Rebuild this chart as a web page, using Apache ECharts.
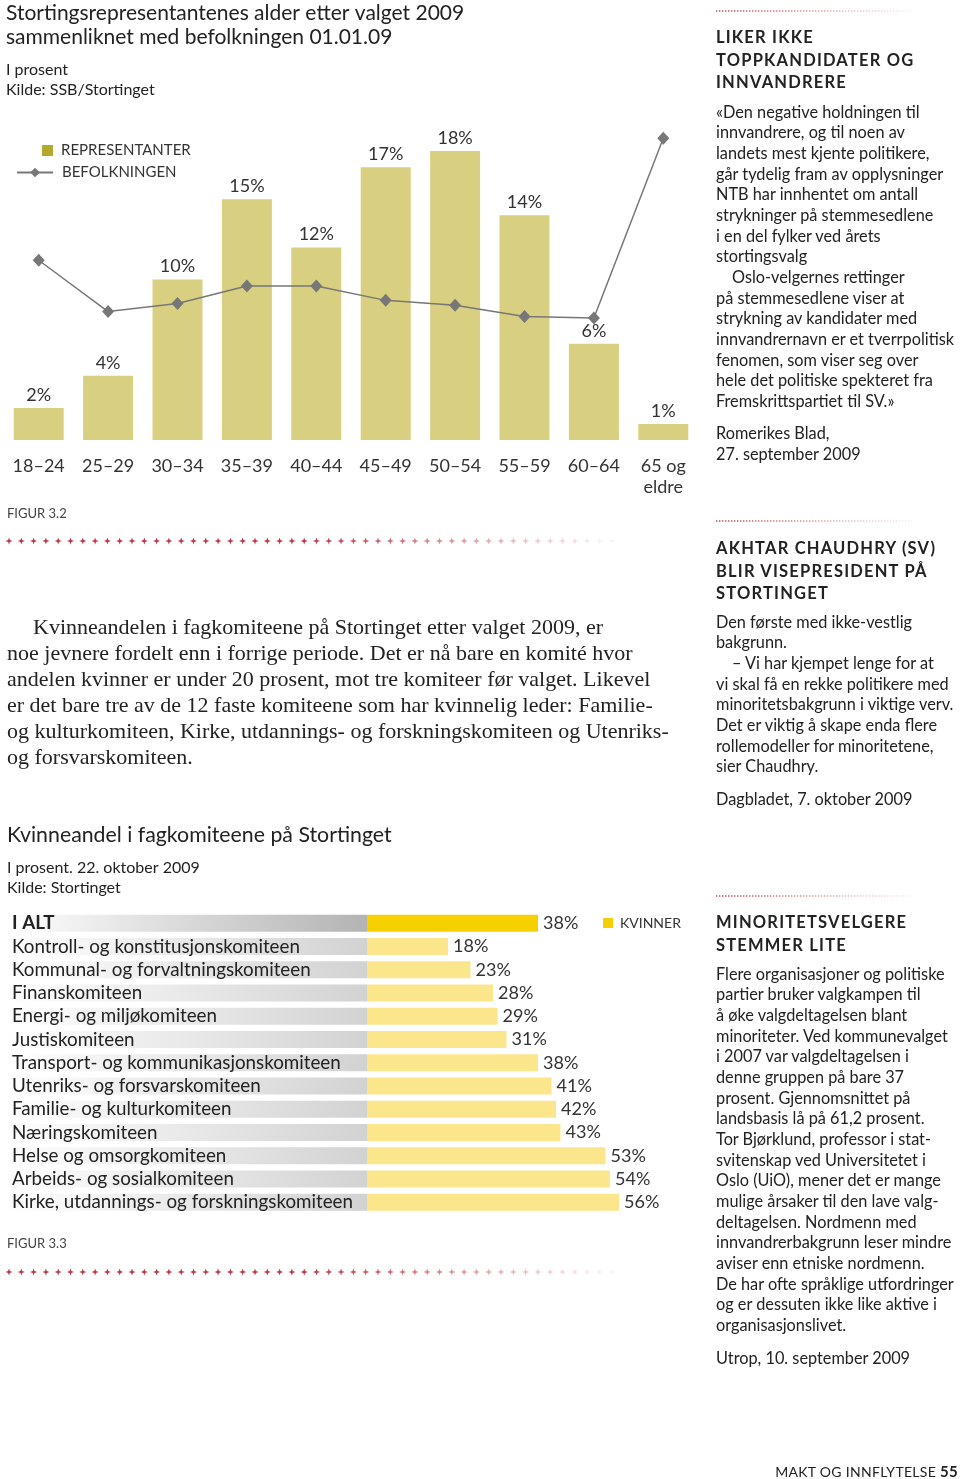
<!DOCTYPE html>
<html><head><meta charset="utf-8">
<script src="https://cdn.jsdelivr.net/npm/echarts@6/dist/echarts.min.js"></script>
<style>
html,body{margin:0;padding:0;background:#fff;}
#page{position:relative;width:960px;height:1479px;overflow:hidden;}
#chart{position:absolute;left:0;top:0;width:960px;height:1479px;}
.t{position:absolute;white-space:nowrap;color:#222;font-family:Lato,sans-serif;margin:0;}
.para{left:7px;top:614px;font-family:'Liberation Serif',serif;font-size:22px;line-height:26px;color:#222;}
.side{left:716px;font-size:16.3px;line-height:20.65px;}
.head{left:716px;font-weight:bold;font-size:16.5px;letter-spacing:1.2px;line-height:22.5px;color:#222;}
.src{left:716px;font-size:16.3px;line-height:21px;}
.foot{right:2px;top:1462px;font-size:14px;line-height:18px;letter-spacing:0.3px;}
</style></head><body>
<div id="page">
<div id="chart"></div>

<div class="t para"><span style="padding-left:26px"></span>Kvinneandelen i fagkomiteene på Stortinget etter valget 2009, er<br>noe jevnere fordelt enn i forrige periode. Det er nå bare en komité hvor<br>andelen kvinner er under 20 prosent, mot tre komiteer før valget. Likevel<br>er det bare tre av de 12 faste komiteene som har kvinnelig leder: Familie-<br>og kulturkomiteen, Kirke, utdannings- og forskningskomiteen og Utenriks-<br>og forsvarskomiteen.</div>

<div class="t head" style="top:26px">LIKER IKKE<br>TOPPKANDIDATER OG<br>INNVANDRERE</div>
<div class="t side" style="top:101.7px">«Den negative holdningen til<br>innvandrere, og til noen av<br>landets mest kjente politikere,<br>går tydelig fram av opplysninger<br>NTB har innhentet om antall<br>strykninger på stemmesedlene<br>i en del fylker ved årets<br>stortingsvalg<br><span style="padding-left:16px"></span>Oslo-velgernes rettinger<br>på stemmesedlene viser at<br>strykning av kandidater med<br>innvandrernavn er et tverrpolitisk<br>fenomen, som viser seg over<br>hele det politiske spekteret fra<br>Fremskrittspartiet til SV.»</div>
<div class="t src" style="top:421.5px">Romerikes Blad,<br>27. september 2009</div>

<div class="t head" style="top:537px">AKHTAR CHAUDHRY (SV)<br>BLIR VISEPRESIDENT PÅ<br>STORTINGET</div>
<div class="t side" style="top:611.7px">Den første med ikke-vestlig<br>bakgrunn.<br><span style="padding-left:16px"></span>– Vi har kjempet lenge for at<br>vi skal få en rekke politikere med<br>minoritetsbakgrunn i viktige verv.<br>Det er viktig å skape enda flere<br>rollemodeller for minoritetene,<br>sier Chaudhry.</div>
<div class="t src" style="top:787.5px">Dagbladet, 7. oktober 2009</div>

<div class="t head" style="top:911px">MINORITETSVELGERE<br>STEMMER LITE</div>
<div class="t side" style="top:963.7px">Flere organisasjoner og politiske<br>partier bruker valgkampen til<br>å øke valgdeltagelsen blant<br>minoriteter. Ved kommunevalget<br>i 2007 var valgdeltagelsen i<br>denne gruppen på bare 37<br>prosent. Gjennomsnittet på<br>landsbasis lå på 61,2 prosent.<br>Tor Bjørklund, professor i stat-<br>svitenskap ved Universitetet i<br>Oslo (UiO), mener det er mange<br>mulige årsaker til den lave valg-<br>deltagelsen. Nordmenn med<br>innvandrerbakgrunn leser mindre<br>aviser enn etniske nordmenn.<br>De har ofte språklige utfordringer<br>og er dessuten ikke like aktive i<br>organisasjonslivet.</div>
<div class="t src" style="top:1346.5px">Utrop, 10. september 2009</div>

<div class="t foot">MAKT OG INNFLYTELSE <b style="font-size:15px">55</b></div>
</div>

<script>
// ---- Figur 3.2 data ----
const ageGroups = ['18–24','25–29','30–34','35–39','40–44','45–49','50–54','55–59','60–64','65 og\neldre'];
const representanter = [2, 4, 10, 15, 12, 17, 18, 14, 6, 1];
const befolkningen = [11.2, 8.0, 8.5, 9.6, 9.6, 8.7, 8.4, 7.7, 7.6, 18.8];

// ---- Figur 3.3 data ----
const komiteer = [
  'I ALT',
  'Kontroll- og konstitusjonskomiteen',
  'Kommunal- og forvaltningskomiteen',
  'Finanskomiteen',
  'Energi- og miljøkomiteen',
  'Justiskomiteen',
  'Transport- og kommunikasjonskomiteen',
  'Utenriks- og forsvarskomiteen',
  'Familie- og kulturkomiteen',
  'Næringskomiteen',
  'Helse og omsorgkomiteen',
  'Arbeids- og sosialkomiteen',
  'Kirke, utdannings- og forskningskomiteen'
];
const kvinner = [38, 18, 23, 28, 29, 31, 38, 41, 42, 43, 53, 54, 56];

const FONT = 'Lato, sans-serif';
const chart = echarts.init(document.getElementById('chart'), null, {renderer: 'canvas', width: 960, height: 1479});

function grad(c0, c1) {
  return new echarts.graphic.LinearGradient(0, 0, 1, 0, [{offset: 0, color: c0}, {offset: 1, color: c1}]);
}

// decorative separators
const graphics = [];
function starRow(y) {
  for (let i = 0; i < 50; i++) {
    const cx = 9 + i * 12.3, cy = y;
    const op = i < 24 ? 1 : Math.max(0.06, 1 - (i - 24) / 26);
    graphics.push({
      type: 'polygon', silent: true,
      shape: {points: [[cx, cy - 3.5], [cx + 0.9, cy - 0.9], [cx + 3.5, cy], [cx + 0.9, cy + 0.9], [cx, cy + 3.5], [cx - 0.9, cy + 0.9], [cx - 3.5, cy], [cx - 0.9, cy - 0.9]]},
      style: {fill: '#b83a48', opacity: op}
    });
  }
}
starRow(541);
starRow(1272);
function dotLine(y) {
  graphics.push({
    type: 'line', silent: true,
    shape: {x1: 716, y1: y, x2: 912, y2: y},
    style: {
      stroke: new echarts.graphic.LinearGradient(716, 0, 912, 0, [{offset: 0, color: 'rgba(185,70,80,1)'}, {offset: 1, color: 'rgba(185,70,80,0.08)'}], true),
      lineWidth: 1.6, lineDash: [1.4, 1.6]
    }
  });
}
dotLine(11); dotLine(521); dotLine(896);

const option = {
  animation: false,
  textStyle: {fontFamily: FONT},
  title: [
    {
      text: 'Stortingsrepresentantenes alder etter valget 2009\nsammenliknet med befolkningen 01.01.09',
      subtext: 'I prosent\nKilde: SSB/Stortinget',
      left: 6, top: 1, padding: 0, itemGap: 11,
      textStyle: {fontFamily: FONT, fontSize: 21, fontWeight: 'normal', color: '#222', lineHeight: 24},
      subtextStyle: {fontFamily: FONT, fontSize: 16, color: '#222', lineHeight: 20}
    },
    {text: 'FIGUR 3.2', left: 7, top: 507, padding: 0, textStyle: {fontFamily: FONT, fontSize: 13, fontWeight: 'normal', color: '#444'}},
    {
      text: 'Kvinneandel i fagkomiteene på Stortinget',
      subtext: 'I prosent. 22. oktober 2009\nKilde: Stortinget',
      left: 7, top: 823, padding: 0, itemGap: 11,
      textStyle: {fontFamily: FONT, fontSize: 21.3, fontWeight: 'normal', color: '#222', lineHeight: 24},
      subtextStyle: {fontFamily: FONT, fontSize: 16, color: '#222', lineHeight: 20}
    },
    {text: 'FIGUR 3.3', left: 7, top: 1237, padding: 0, textStyle: {fontFamily: FONT, fontSize: 13, fontWeight: 'normal', color: '#444'}}
  ],
  legend: [
    {data: [{name: 'REPRESENTANTER', icon: 'rect', itemStyle: {color: '#b5a82c'}}], left: 42, top: 143, padding: 0,
      itemWidth: 11, itemHeight: 11, selectedMode: false, textStyle: {fontSize: 15, color: '#333', padding: [0, 0, 0, 3]}},
    {data: [{name: 'BEFOLKNINGEN'}], left: 16, top: 165, padding: 0,
      itemWidth: 36, itemHeight: 12, selectedMode: false, textStyle: {fontSize: 15, color: '#333', padding: [0, 0, 0, 4]}},
    {data: [{name: 'KVINNER', icon: 'rect', itemStyle: {color: '#f5d000'}}], left: 603, top: 916, padding: 0,
      itemWidth: 10, itemHeight: 10, selectedMode: false, textStyle: {fontSize: 14, color: '#333', padding: [0, 0, 0, 2]}}
  ],
  grid: [
    {left: 4, top: 119, width: 694, height: 321},
    {left: 5, top: 911.7, width: 362, height: 302.25},
    {left: 367, top: 911.7, width: 270, height: 302.25}
  ],
  xAxis: [
    {gridIndex: 0, type: 'category', data: ageGroups, axisLine: {show: false}, axisTick: {show: false},
      axisLabel: {interval: 0, fontSize: 18, color: '#333', margin: 16, lineHeight: 21}},
    {gridIndex: 1, type: 'value', min: 0, max: 1, show: false},
    {gridIndex: 2, type: 'value', min: 0, max: 60, show: false}
  ],
  yAxis: [
    {gridIndex: 0, type: 'value', min: 0, max: 20, show: false},
    {gridIndex: 1, type: 'category', data: komiteer, inverse: true, z: 10,
      axisLine: {show: false}, axisTick: {show: false}, splitLine: {show: false},
      axisLabel: {interval: 0, inside: true, margin: 7, fontSize: 18.8, color: '#222',
        formatter: (v, i) => i === 0 ? '{b|' + v + '}' : v,
        rich: {b: {fontSize: 18.8, fontWeight: 'bold', color: '#222', fontFamily: FONT}}}},
    {gridIndex: 2, type: 'category', data: komiteer, inverse: true, show: false}
  ],
  series: [
    {
      name: 'REPRESENTANTER', type: 'bar', xAxisIndex: 0, yAxisIndex: 0, data: representanter,
      barWidth: 50, itemStyle: {color: '#d9cf80'},
      label: {show: true, position: 'top', distance: 4, formatter: '{c}%', fontSize: 18, color: '#333'}
    },
    {
      name: 'BEFOLKNINGEN', type: 'line', xAxisIndex: 0, yAxisIndex: 0, data: befolkningen, z: 3,
      symbol: 'diamond', symbolSize: [12, 13], lineStyle: {color: '#777', width: 1.5}, itemStyle: {color: '#777'}
    },
    {
      name: 'bakgrunn', type: 'bar', xAxisIndex: 1, yAxisIndex: 1, silent: true, barWidth: 17,
      data: komiteer.map((k, i) => ({value: 1, itemStyle: {color: i === 0 ? grad('#ffffff', '#b3b3b3') : grad('#ffffff', '#d2d2d2')}}))
    },
    {
      name: 'KVINNER', type: 'bar', xAxisIndex: 2, yAxisIndex: 2, barWidth: 17,
      itemStyle: {color: '#fce68c'},
      data: kvinner.map((v, i) => i === 0 ? {value: v, itemStyle: {color: '#f6d000'}} : v),
      label: {show: true, position: 'right', distance: 5, formatter: '{c}%', fontSize: 18, color: '#333'}
    }
  ],
  graphic: graphics
};
chart.setOption(option);
</script>
</body></html>
